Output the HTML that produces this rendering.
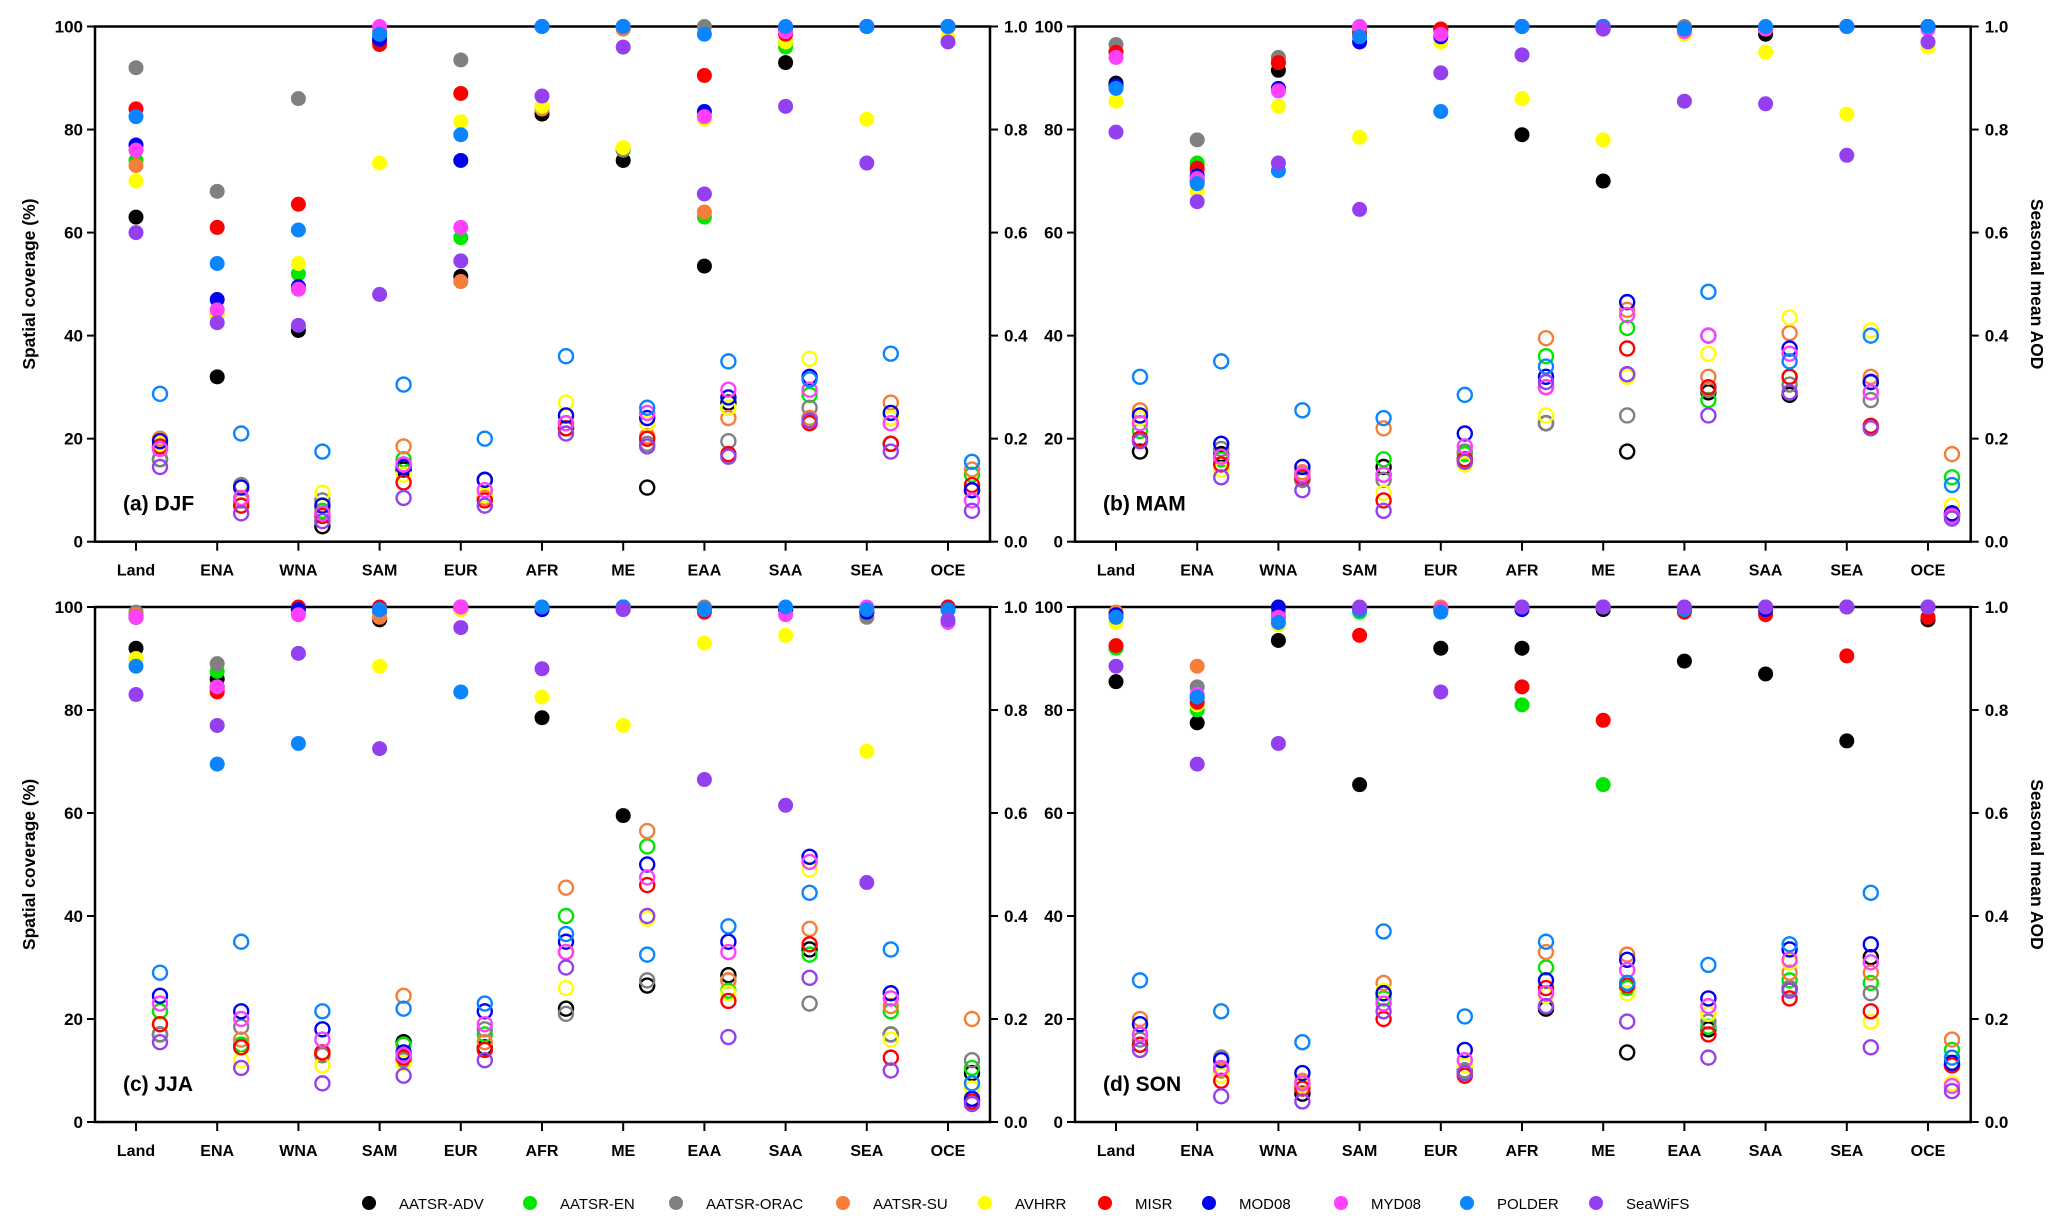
<!DOCTYPE html>
<html><head><meta charset="utf-8"><style>
html,body{margin:0;padding:0;background:#fff;}
svg{display:block;font-family:"Liberation Sans",sans-serif;}
</style></head><body>
<svg id="fig" width="2067" height="1230" viewBox="0 0 2067 1230" xmlns="http://www.w3.org/2000/svg"></svg>
<script>
const regions = ["Land","ENA","WNA","SAM","EUR","AFR","ME","EAA","SAA","SEA","OCE"];
const datasets = ["AATSR-ADV","AATSR-EN","AATSR-ORAC","AATSR-SU","AVHRR","MISR","MOD08","MYD08","POLDER","SeaWiFS"];
const colors = ["#000000","#00e600","#808080","#f47e3a","#ffff00","#ff0000","#0000f0","#ff40ff","#0a85ff","#9540f0"];
const yTicksLeft = ["0","20","40","60","80","100"];
const yTicksRight = ["0.0","0.2","0.4","0.6","0.8","1.0"];
// per region: [ADV, EN, ORAC, SU, AVHRR, MISR, MOD08, MYD08, POLDER, SeaWiFS]
const covDJF = [
[63,74,92,73,70,84,77,76,82.5,60],[32,44,68,44,44,61,47,45,54,42.5],[41,52,86,49,54,65.5,49.5,49,60.5,42],
[97,98,99,97,73.5,96.5,97.5,100,98.5,48],[51.5,59,93.5,50.5,81.5,87,74,61,79,54.5],[83,84,84,84,84.5,100,100,100,100,86.5],
[74,76,76,99.5,76.5,100,100,100,100,96],[53.5,63,100,64,82,90.5,83.5,82.5,98.5,67.5],[93,96,97,97,97,98.5,99.5,99,100,84.5],
[100,100,100,100,82,100,100,100,100,73.5],[100,100,100,100,98,100,100,100,100,97]];
const aodDJF = [
[.16,.18,.16,.20,.19,.185,.195,.18,.287,.145],[.08,.08,.11,.08,.07,.07,.105,.085,.21,.055],[.03,.06,.08,.05,.095,.05,.07,.055,.175,.04],
[.14,.16,.15,.185,.13,.115,.145,.15,.305,.085],[.12,.09,.12,.085,.09,.08,.12,.10,.20,.07],[.22,.23,.22,.23,.27,.22,.245,.23,.36,.21],
[.105,.20,.19,.205,.23,.20,.24,.25,.26,.185],[.27,.26,.195,.24,.26,.17,.28,.295,.35,.165],[.24,.285,.26,.24,.355,.23,.32,.295,.315,.235],
[.19,.24,.24,.27,.24,.19,.25,.23,.365,.175],[.10,.13,.10,.14,.11,.11,.10,.08,.155,.06]];
const covMAM = [
[89,95,96.5,95,85.5,95,88.5,94,88,79.5],[70,73.5,78,72,68,72.5,71,70.5,69.5,66],[91.5,93,94,88,84.5,93,88,87.5,72,73.5],
[99,100,99.5,99,78.5,98.5,97,100,98,64.5],[99.5,99,99.5,99.5,97,99.5,98,98.5,83.5,91],[79,100,100,100,86,100,100,100,100,94.5],
[70,100,100,100,78,100,100,99.5,100,99.5],[99.5,99.5,100,99,98.5,99.5,99.5,99,99.5,85.5],[98.5,99.5,99.5,99.5,95,99.5,99.5,99.5,100,85],
[100,100,100,100,83,100,100,100,100,75],[100,100,100,100,96,100,100,99.5,100,97]];
const aodMAM = [
[.175,.215,.195,.255,.24,.20,.245,.23,.32,.195],[.17,.16,.18,.15,.14,.15,.19,.165,.35,.125],[.12,.12,.12,.135,.13,.125,.145,.13,.255,.10],
[.145,.16,.12,.22,.095,.08,.13,.13,.24,.06],[.16,.17,.175,.16,.15,.16,.21,.185,.285,.155],[.23,.36,.23,.395,.245,.30,.32,.30,.34,.31],
[.175,.415,.245,.45,.32,.375,.465,.44,.325,.325],[.29,.275,.295,.32,.365,.30,.40,.40,.485,.245],[.285,.32,.305,.405,.435,.32,.375,.365,.35,.29],
[.31,.29,.275,.32,.41,.225,.31,.29,.40,.22],[.05,.125,.05,.17,.07,.055,.055,.05,.11,.045]];
const covJJA = [
[92,98,99,98.5,90,98,98,98,88.5,83],[86,87.5,89,84,84.5,83.5,84.5,84.5,69.5,77],[99.5,99.5,99.5,99.5,99,100,99.5,98.5,73.5,91],
[97.5,99,99,98,88.5,100,99.5,99.5,99.5,72.5],[99.5,100,100,100,99.5,100,100,100,83.5,96],[78.5,99.5,99.5,99.5,82.5,99.5,99.5,100,100,88],
[59.5,100,100,100,77,100,100,99.5,100,99.5],[99.5,99.5,100,99.5,93,99,99.5,99.5,99.5,66.5],[99.5,99.5,99.5,99.5,94.5,99.5,99.5,98.5,100,61.5],
[99,99,98,99,72,99,99,100,99.5,46.5],[99.5,100,100,100,99.5,100,99.5,97,99.5,97.5]];
const aodJJA = [
[.17,.215,.17,.19,.19,.19,.245,.23,.29,.155],[.15,.15,.185,.16,.12,.145,.215,.20,.35,.105],[.13,.13,.13,.135,.11,.135,.18,.16,.215,.075],
[.155,.15,.12,.245,.115,.125,.135,.13,.22,.09],[.145,.17,.18,.155,.14,.14,.215,.19,.23,.12],[.22,.40,.21,.455,.26,.33,.35,.33,.365,.30],
[.265,.535,.275,.565,.395,.46,.50,.475,.325,.40],[.285,.255,.275,.275,.25,.235,.35,.33,.38,.165],[.335,.325,.23,.375,.49,.345,.515,.505,.445,.28],
[.17,.215,.17,.225,.16,.125,.25,.24,.335,.10],[.095,.105,.12,.20,.065,.04,.045,.035,.075,.035]];
const covSON = [
[85.5,92,99,99,97,92.5,98.5,98,98,88.5],[77.5,80,84.5,88.5,81,81.5,82.5,83,82.5,69.5],[93.5,98,99,100,96.5,98,100,98,97,73.5],
[65.5,99,99.5,99.5,99.5,94.5,99.5,99.5,99.5,100],[92,99.5,99.5,100,99.5,99.5,99.5,99.5,99,83.5],[92,81,99.5,99.5,99.5,84.5,99.5,100,100,100],
[99.5,65.5,100,100,100,78,100,100,100,100],[89.5,99.5,99.5,100,99.5,99,99.5,100,99.5,100],[87,99.5,99.5,100,99.5,98.5,99.5,100,100,100],
[74,100,100,100,100,90.5,100,100,100,100],[97.5,100,100,100,100,98,100,100,100,100]];
const aodSON = [
[.15,.17,.16,.20,.17,.15,.19,.17,.275,.14],[.10,.10,.125,.10,.09,.08,.12,.105,.215,.05],[.055,.07,.07,.08,.07,.065,.095,.075,.155,.04],
[.25,.24,.23,.27,.255,.20,.25,.23,.37,.215],[.10,.10,.10,.09,.11,.09,.14,.12,.205,.095],[.22,.30,.225,.33,.245,.26,.275,.25,.35,.225],
[.135,.26,.27,.325,.25,.265,.315,.295,.27,.195],[.18,.185,.195,.21,.21,.17,.24,.225,.305,.125],[.26,.275,.26,.29,.31,.24,.335,.315,.345,.255],
[.32,.27,.25,.29,.195,.215,.345,.31,.445,.145],[.11,.14,.11,.16,.075,.11,.115,.07,.125,.06]];

const NS = "http://www.w3.org/2000/svg";
const svg = document.getElementById("fig");
function mk(tag, attrs, parent){
  const e = document.createElementNS(NS, tag);
  for (const k in attrs) e.setAttribute(k, attrs[k]);
  (parent||svg).appendChild(e);
  return e;
}
const panels = [
  {id:"djf", label:"(a) DJF", cov:covDJF, aod:aodDJF, x0:95, x1:990, y0:26.5, y1:541.7, left:true, right:false},
  {id:"mam", label:"(b) MAM", cov:covMAM, aod:aodMAM, x0:1075, x1:1970.7, y0:26.5, y1:541.7, left:false, right:true},
  {id:"jja", label:"(c) JJA", cov:covJJA, aod:aodJJA, x0:95, x1:990, y0:607, y1:1122, left:true, right:false},
  {id:"son", label:"(d) SON", cov:covSON, aod:aodSON, x0:1075, x1:1970.7, y0:607, y1:1122, left:false, right:true}
];
const spacing = 81.2;
panels.forEach(p => {
  const g = mk("g", {});
  
  
  const cx0 = p.x0 + 41;
  const xPos = i => cx0 + i*spacing;
  const yL = v => p.y1 - (v/100)*(p.y1 - p.y0);
  const yR = v => p.y1 - v*(p.y1 - p.y0);
  const fr = mk("rect", {x:p.x0, y:p.y0, width:p.x1-p.x0, height:p.y1-p.y0, fill:"none", stroke:"#000", "stroke-width":2.5}, g);
  
  
  yTicksLeft.forEach((t,i) => {
    const y = yL(+t);
    mk("line", {x1:p.x0-8, x2:p.x0, y1:y, y2:y, stroke:"#000", "stroke-width":2}, g);
    const tx = mk("text", {x:p.x0-12, y:y+6, "text-anchor":"end", "font-size":17, "font-weight":"bold"}, g);
    tx.textContent = t;
    
    
  });
  yTicksRight.forEach((t,i) => {
    const y = yR(+t);
    mk("line", {x1:p.x1, x2:p.x1+8, y1:y, y2:y, stroke:"#000", "stroke-width":2}, g);
    const tx = mk("text", {x:p.x1+14, y:y+6, "text-anchor":"start", "font-size":17, "font-weight":"bold"}, g);
    tx.textContent = t;
    
    
  });
  regions.forEach((r,i) => {
    const x = xPos(i);
    mk("line", {x1:x, x2:x, y1:p.y1, y2:p.y1+9, stroke:"#000", "stroke-width":2}, g);
    const tx = mk("text", {x:x, y:p.y1+34, "text-anchor":"middle", "font-size":16, "font-weight":"bold"}, g);
    tx.textContent = r;
    
    
  });
  const pl = mk("text", {x:p.x0+28, y:p.y1-31, "font-size":21, "font-weight":"bold"}, g);
  pl.textContent = p.label;
  
  
  if (p.left){
    const cy = (p.y0+p.y1)/2;
    const t = mk("text", {x:0, y:0, transform:`translate(35,${cy}) rotate(-90)`, "text-anchor":"middle", "font-size":17.5, "font-weight":"bold"}, g);
    t.textContent = "Spatial coverage (%)";
    
    
  }
  if (p.right){
    const cy = (p.y0+p.y1)/2;
    const t = mk("text", {x:0, y:0, transform:`translate(2031,${cy}) rotate(90)`, "text-anchor":"middle", "font-size":17.5, "font-weight":"bold"}, g);
    t.textContent = "Seasonal mean AOD";
    
    
  }
  datasets.forEach((d,k) => {
    regions.forEach((r,i) => {
      const c = mk("circle", {cx:xPos(i), cy:yL(p.cov[i][k]), r:7.5, fill:colors[k]}, g);
      
      
      const o = mk("circle", {cx:xPos(i)+24, cy:yR(p.aod[i][k]), r:7, fill:"none", stroke:colors[k], "stroke-width":2.4}, g);
      
      
    });
  });
});
const legX = [369,530,676,843,985,1105,1209,1341,1467,1596];
const lg = mk("g", {});


datasets.forEach((d,k) => {
  const c = mk("circle", {cx:legX[k], cy:1203, r:7, fill:colors[k]}, lg);
  
  
  const t = mk("text", {x:legX[k]+30, y:1209, "font-size":15}, lg);
  t.textContent = d;
  
  
});
</script>
</body></html>
